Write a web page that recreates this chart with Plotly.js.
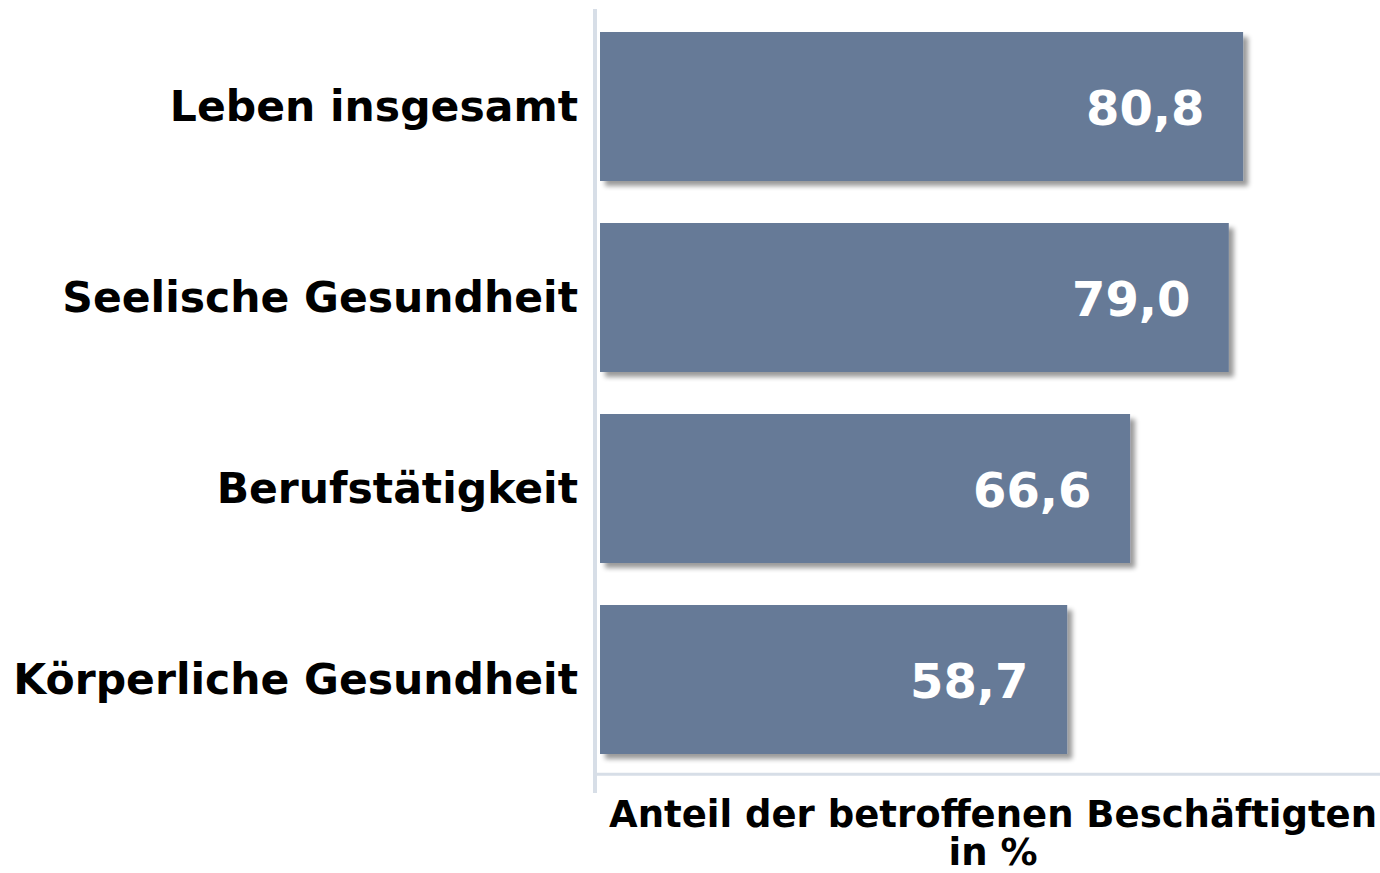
<!DOCTYPE html>
<html>
<head>
<meta charset="utf-8">
<script src="https://cdn.plot.ly/plotly-3.0.1.min.js"></script>
<style>
  html, body { margin: 0; padding: 0; background: #ffffff; }
  #chart { width: 1380px; height: 873px; }
</style>
</head>
<body>
<div id="chart"></div>
<script>
const categories = ["Leben insgesamt", "Seelische Gesundheit", "Berufstätigkeit", "Körperliche Gesundheit"];
const values = [80.8, 79.0, 66.6, 58.7];
const valueLabels = ["80,8", "79,0", "66,6", "58,7"];
const axisTitle = "Anteil der betroffenen Beschäftigten<br>in %";

const barColor = "#667a97";
const lineColor = "#d7dee7";
const fontFamily = "DejaVu Sans, Verdana, sans-serif";

const trace = {
  type: "bar",
  orientation: "h",
  x: values,
  y: categories,
  marker: { color: barColor, line: { width: 0 } },
  hoverinfo: "none"
};

const annotations = values.map((v, i) => ({
  x: v,
  y: categories[i],
  xref: "x",
  yref: "y",
  text: valueLabels[i],
  showarrow: false,
  xanchor: "right",
  yanchor: "middle",
  xshift: -37,
  yshift: -1,
  font: { family: fontFamily, size: 48, color: "#ffffff", weight: "bold" }
}));

annotations.push({
  x: 0.5, y: 0, xref: "paper", yref: "paper",
  text: axisTitle, showarrow: false,
  xanchor: "center", yanchor: "top",
  xshift: 5, yshift: -16,
  name: "axistitle",
  font: { family: fontFamily, size: 37, color: "#000000", weight: "bold" }
});

const layout = {
  width: 1380,
  height: 873,
  margin: { l: 595, r: 0, t: 11, b: 98, pad: 0 },
  paper_bgcolor: "#ffffff",
  plot_bgcolor: "#ffffff",
  showlegend: false,
  bargap: 0.22,
  xaxis: {
    range: [-0.63, 98],
    showgrid: false,
    zeroline: false,
    showline: false,
    showticklabels: false,
    ticks: "",
    fixedrange: true
  },
  yaxis: {
    type: "category",
    autorange: "reversed",
    range: [3.5, -0.5],
    showgrid: false,
    zeroline: false,
    showline: false,
    ticks: "",
    ticklabelstandoff: 16,
    tickfont: { family: fontFamily, size: 42.5, color: "#000000", weight: "bold" },
    fixedrange: true
  },
  shapes: [
    { type: "line", xref: "paper", yref: "paper", x0: 0, x1: 0, y0: -0.0236, y1: 1.0026,
      line: { color: lineColor, width: 4 } },
    { type: "line", xref: "paper", yref: "paper", x0: 0.0025, x1: 1, y0: 0.001, y1: 0.001,
      line: { color: lineColor, width: 3 } }
  ],
  annotations: annotations
};

Plotly.newPlot("chart", [trace], layout, { displayModeBar: false, staticPlot: true }).then(gd => {
  const svg = gd.querySelector("svg.main-svg");
  const ns = "http://www.w3.org/2000/svg";
  let defs = svg.querySelector("defs");
  if (!defs) { defs = document.createElementNS(ns, "defs"); svg.insertBefore(defs, svg.firstChild); }
  const f = document.createElementNS(ns, "filter");
  f.setAttribute("id", "barshadow");
  f.setAttribute("x", "-10%"); f.setAttribute("y", "-10%");
  f.setAttribute("width", "130%"); f.setAttribute("height", "140%");
  f.innerHTML = '<feGaussianBlur in="SourceAlpha" stdDeviation="2.5"/>' +
    '<feOffset dx="5" dy="5" result="ob"/>' +
    '<feComponentTransfer><feFuncA type="linear" slope="0.4"/></feComponentTransfer>' +
    '<feMerge><feMergeNode/><feMergeNode in="SourceGraphic"/></feMerge>';
  defs.appendChild(f);
  gd.querySelectorAll(".barlayer .point path").forEach(p => p.setAttribute("filter", "url(#barshadow)"));

  // tighten the line spacing of the two-line axis title
  gd.querySelectorAll(".annotation-text").forEach(t => {
    const lines = t.querySelectorAll("tspan.line");
    if (lines.length === 2) {
      const d = parseFloat(t.getAttribute("y") || "0");
      lines[1].setAttribute("dy", "1.03em");
      const bg = t.closest(".annotation");
    }
  });
});
</script>
</body>
</html>
